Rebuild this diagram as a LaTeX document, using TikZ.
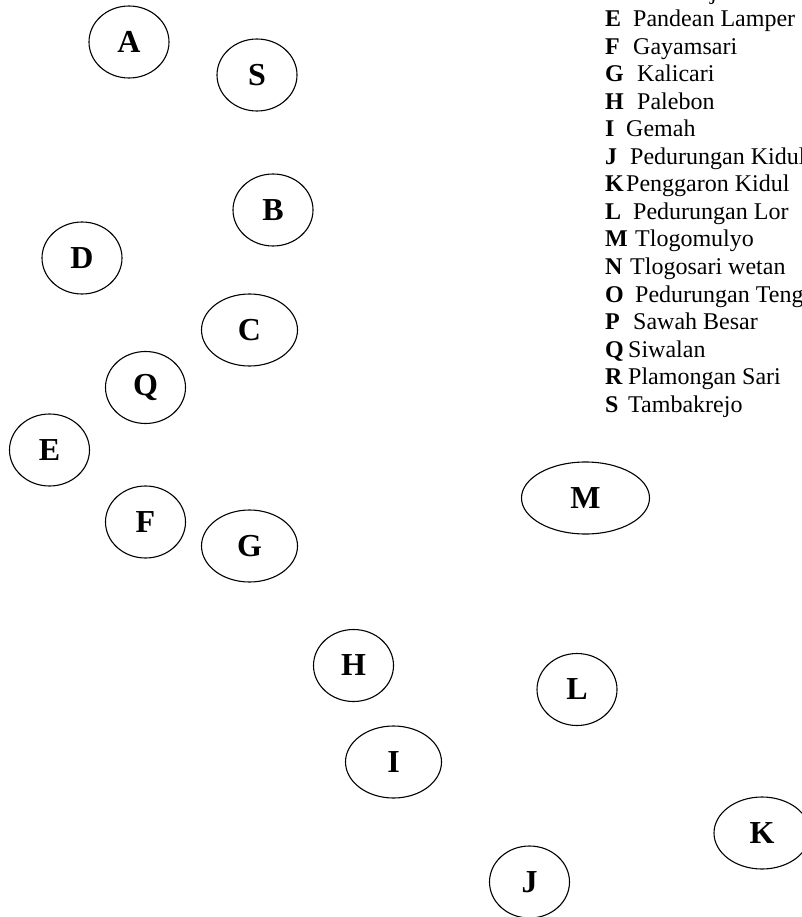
\documentclass[tikz,border=0pt]{standalone}
\usepackage{fontspec}
\setmainfont{Liberation Serif}
\usetikzlibrary{shapes.geometric}

\begin{document}
\begin{tikzpicture}[x=1pt, y=-1pt]
\tikzstyle{village}=[draw, ellipse, line width=1.1pt, inner sep=0pt, minimum width=80pt, minimum height=72pt, font=\fontsize{32}{36}\selectfont\bfseries]
\tikzstyle{widevillage}=[village, minimum width=96pt]
\tikzstyle{longvillage}=[village, minimum width=128pt]
\tikzstyle{legend}=[anchor=base west, inner sep=0pt, font=\fontsize{24}{27}\selectfont]
\useasboundingbox (0,0) rectangle (801,917);

% villages
\node[village] (vA) at (129,42) {A};
\node[village] (vS) at (257,75) {S};
\node[village] (vB) at (273,210) {B};
\node[village] (vD) at (82,258) {D};
\node[widevillage] (vC) at (249.5,330) {C};
\node[village] (vQ) at (145.5,387.5) {Q};
\node[village] (vE) at (49.5,450) {E};
\node[village] (vF) at (145.5,522) {F};
\node[widevillage] (vG) at (249.5,546) {G};
\node[longvillage] (vM) at (585.5,498) {M};
\node[village] (vH) at (353.5,665.5) {H};
\node[village] (vL) at (577,689.5) {L};
\node[widevillage] (vI) at (393.5,762) {I};
\node[widevillage] (vK) at (762,833) {K};
\node[village] (vJ) at (529.5,882) {J};

% key
\foreach \ltr/\ly/\lx/\lname in {D/-0.5/630/Sambirejo, E/27/633/Pandean Lamper, F/54.5/633/Gayamsari,
  G/82/637/Kalicari, H/109.5/637/Palebon, I/137/626/Gemah, J/164.5/630/Pedurungan Kidul,
  K/192/626/Penggaron Kidul, L/219.5/633/Pedurungan Lor, M/247/635/Tlogomulyo,
  N/274.5/630/Tlogosari wetan, O/302/635/Pedurungan Tengah, P/329.5/633/Sawah Besar,
  Q/357/628/Siwalan, R/384.5/628/Plamongan Sari, S/412/628/Tambakrejo}{
  \node[legend] (key\ltr) at (605,\ly) {\textbf{\ltr}};
  \node[legend] (name\ltr) at (\lx,\ly) {\lname};
}
\end{tikzpicture}
\end{document}
